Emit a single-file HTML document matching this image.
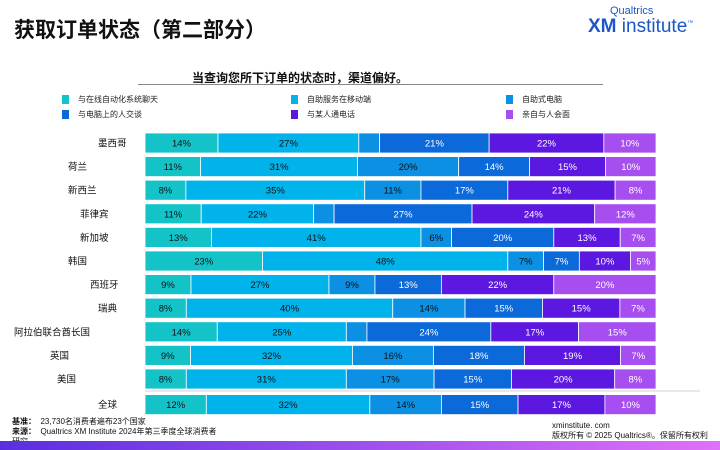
<!DOCTYPE html>
<html><head><meta charset="utf-8"><style>
body{margin:0;width:720px;height:450px;overflow:hidden;background:#fff;font-family:"Liberation Sans","Noto Sans CJK SC",sans-serif;position:relative}
.abs{position:absolute;white-space:nowrap}
</style></head><body>
<div class="abs" style="left:14px;top:14px;font-size:21px;font-weight:bold;color:#111">获取订单状态（第二部分）</div>
<div class="abs" style="left:588px;top:6px;color:#1a56c8;line-height:1">
<div style="font-size:11px;margin-left:22px">Qualtrics</div>
<div style="font-size:19px"><b>XM</b> institute<sup style="font-size:6px">™</sup></div></div>
<div class="abs" style="left:192px;top:69px;font-size:12px;font-weight:bold;color:#111">当查询您所下订单的状态时，渠道偏好。</div>
<div class="abs" style="left:138px;top:84px;width:465px;height:1px;background:#888"></div>
<div id="legend"></div>
<svg id="chart" width="720" height="450" style="position:absolute;left:0;top:0"></svg>
<div class="abs" style="left:12px;top:417px;font-size:8px;color:#111;line-height:10px"><b>基准：</b>&nbsp;&nbsp;23,730名消费者遍布23个国家<br><b>来源：</b>&nbsp;&nbsp;Qualtrics XM Institute 2024年第三季度全球消费者<br>研究</div>
<div class="abs" style="left:552px;top:421px;font-size:8px;color:#111;line-height:10px">xminstitute. com<br>版权所有 © 2025 Qualtrics®。保留所有权利</div>
<div class="abs" style="left:0;top:441px;width:720px;height:9px;background:linear-gradient(90deg,#5a2ee0,#e070f8)"></div>
<script>
const categories=["墨西哥","荷兰","新西兰","菲律宾","新加坡","韩国","西班牙","瑞典","阿拉伯联合酋长国","英国","美国","全球"];
const labelX=[98,68,68,80,80,68,90,98,14,50,57,98];
const s1=[14,11,8,11,13,23,9,8,14,9,8,12];
const s2=[27,31,35,22,41,48,27,40,25,32,31,32];
const s3=[4,20,11,4,6,7,9,14,4,16,17,14];
const s4=[21,14,17,27,20,7,13,15,24,18,15,15];
const s5=[22,15,21,24,13,10,22,15,17,19,20,17];
const s6=[10,10,8,12,7,5,20,7,15,7,8,10];
const seriesNames=["与在线自动化系统聊天","自助服务在移动端","自助式电脑","与电脑上的人交谈","与某人通电话","亲自与人会面"];
const colors=["#13c3c8","#00b3ea","#0b90e4","#0b69d9","#5c18e0","#a64ef0"];
const textColors=["#111","#111","#111","#fff","#fff","#fff"];
const series=[s1,s2,s3,s4,s5,s6];
const NS="http://www.w3.org/2000/svg";
const svg=document.getElementById('chart');
const x0=145,x1=656,yTop=133,rowStep=23.6,barH=20;
function yPos(i){return yTop+i*rowStep+(i==11?2:0);}
const leg=document.getElementById('legend');
const lx=[62,291,506],ly=[94,109];
seriesNames.forEach((n,k)=>{
 const d=document.createElement('div');d.className='abs';
 
 
 d.style.left=lx[k%3]+'px';d.style.top=ly[Math.floor(k/3)]+'px';d.style.fontSize='8px';d.style.color='#222';
 d.innerHTML='<span style="display:inline-block;width:7px;height:9px;background:'+colors[k]+';vertical-align:middle;margin-right:9px"></span>'+n;
 leg.appendChild(d);
});
categories.forEach((c,i)=>{
 const y=yPos(i);
 const t=document.createElementNS(NS,'text');
 
 
 t.setAttribute('x',labelX[i]);t.setAttribute('y',y+barH/2+3.5);t.setAttribute('font-size','9.5');t.setAttribute('fill','#111');
 t.textContent=c;svg.appendChild(t);
 let tot=0;series.forEach(s=>tot+=s[i]);
 let x=x0;
 series.forEach((s,k)=>{
  const w=s[i]/tot*(x1-x0);
  const r=document.createElementNS(NS,'rect');
  
  
  r.setAttribute('x',x);r.setAttribute('y',y);r.setAttribute('width',w);r.setAttribute('height',barH);
  r.setAttribute('fill',colors[k]);r.setAttribute('stroke','#fff');r.setAttribute('stroke-width','0.8');
  svg.appendChild(r);
  if(s[i]>=5){
   const l=document.createElementNS(NS,'text');
   
   
   l.setAttribute('x',x+w/2);l.setAttribute('y',y+barH/2+3.5);l.setAttribute('text-anchor','middle');
   l.setAttribute('font-size','9.5');l.setAttribute('fill',textColors[k]);
   l.textContent=s[i]+'%';svg.appendChild(l);
  }
  x+=w;
 });
});
const sep=document.createElementNS(NS,'line');


sep.setAttribute('x1',145);sep.setAttribute('x2',700);sep.setAttribute('y1',391);sep.setAttribute('y2',391);
sep.setAttribute('stroke','#cdd3dc');sep.setAttribute('stroke-width','1');svg.appendChild(sep);
</script>
</body></html>
